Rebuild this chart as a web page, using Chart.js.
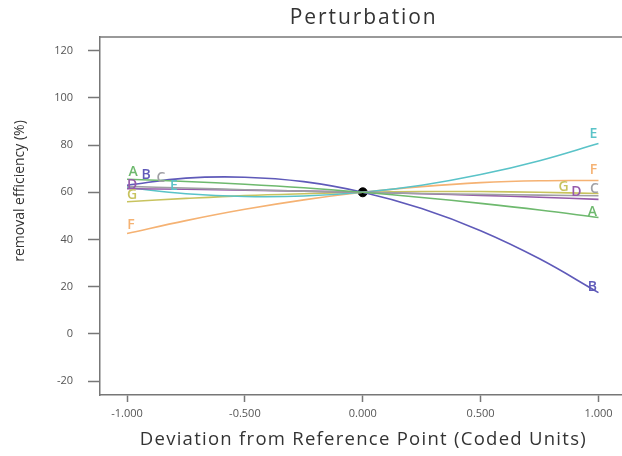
<!DOCTYPE html>
<html>
<head>
<meta charset="utf-8">
<title>Perturbation</title>
<script src="https://cdn.jsdelivr.net/npm/chart.js@4/dist/chart.umd.min.js"></script>
<style>
  html, body { margin: 0; padding: 0; background: #fff; overflow: hidden; }
  #wrap { width: 640px; height: 456px; }
</style>
</head>
<body>
<div id="wrap"><canvas id="chart" width="640" height="456"></canvas></div>
<script>
// deviation from the reference point (coded units)
const deviation = [-1, -0.75, -0.5, -0.25, 0, 0.25, 0.5, 0.75, 1];

// removal efficiency (%) for each factor
const factorA = [65.5, 64.6, 63.4, 61.9, 60, 57.8, 55.3, 52.5, 49.3];
const factorB = [63.0, 66.0, 66.4, 64.5, 60, 53.1, 43.7, 31.8, 17.5];
const factorC = [62.5, 61.8, 61.1, 60.5, 60, 59.5, 59.1, 58.8, 58.5];
const factorD = [61.5, 61.3, 60.9, 60.5, 60, 59.4, 58.7, 57.9, 57.0];
const factorE = [62.0, 59.4, 58.2, 58.4, 60, 63.0, 67.5, 73.4, 80.7];
const factorF = [42.5, 48.0, 52.8, 56.8, 60, 62.4, 64.1, 64.9, 65.0];
const factorG = [56.0, 57.4, 58.6, 59.4, 60, 60.3, 60.3, 60.0, 59.5];

const factorNames = ['A', 'B', 'C', 'D', 'E', 'F', 'G'];

// reference point
const refX = [0];
const refY = [60];

const xTicks = [-1, -0.5, 0, 0.5, 1];
const yTicks = [-20, 0, 20, 40, 60, 80, 100, 120];

const colors = {
  A: 'rgb(110,185,110)',
  B: 'rgb(95,90,185)',
  C: 'rgb(160,160,165)',
  D: 'rgb(150,90,170)',
  E: 'rgb(90,195,200)',
  F: 'rgb(245,178,115)',
  G: 'rgb(200,195,95)'
};

// letter placement next to the curve ends, px offsets
const labelOffsets = {
  A: { left: [6, -7], right: [-6, -6] },
  B: { left: [19, -10], right: [-6, -6] },
  C: { left: [34, -8], right: [-4, -7] },
  D: { left: [5, -4], right: [-22, -7] },
  E: { left: [47, -2], right: [-5, -9] },
  F: { left: [4, -9], right: [-5, -10] },
  G: { left: [5, -7], right: [-35, -6] }
};

const seriesValues = [factorA, factorB, factorC, factorD, factorE, factorF, factorG];

const datasets = factorNames.map((name, i) => ({
  label: name,
  data: deviation.map((x, j) => ({ x: x, y: seriesValues[i][j] })),
  borderColor: colors[name],
  borderWidth: 1.6,
  pointRadius: 0,
  tension: 0.4,
  fill: false
}));

datasets.push({
  label: 'ref',
  data: refX.map((x, j) => ({ x: x, y: refY[j] })),
  showLine: false,
  pointRadius: 4.5,
  pointBackgroundColor: '#000',
  pointBorderColor: '#000'
});

const textFont = '"Open Sans", "Noto Sans", sans-serif';

// draws text with spacing so it spans the given width
function fitText(ctx, text, cx, cy, width) {
  ctx.letterSpacing = '0px';
  const w = ctx.measureText(text).width;
  const gap = Math.max(0, (width - w) / (text.length - 1));
  ctx.letterSpacing = gap.toFixed(2) + 'px';
  ctx.fillText(text, cx + gap / 2, cy);
  ctx.letterSpacing = '0px';
}

const decorations = {
  id: 'decorations',
  afterDraw(chart) {
    const { ctx, chartArea, scales } = chart;
    const xs = scales.x, ys = scales.y;
    const midX = xs.getPixelForValue(0);
    ctx.save();

    // frame top edge
    ctx.strokeStyle = '#777';
    ctx.lineWidth = 1.5;
    ctx.beginPath();
    ctx.moveTo(chartArea.left, chartArea.top);
    ctx.lineTo(chartArea.right, chartArea.top);
    ctx.stroke();

    // y tick labels
    ctx.fillStyle = '#555';
    ctx.font = '11px ' + textFont;
    ctx.textAlign = 'right';
    ctx.textBaseline = 'middle';
    yTicks.forEach(v => ctx.fillText(String(v), 73, ys.getPixelForValue(v)));

    // chart title
    ctx.fillStyle = '#333';
    ctx.textAlign = 'center';
    ctx.font = '500 21px ' + textFont;
    fitText(ctx, 'Perturbation', midX, 18, 146);

    // axis titles
    ctx.font = '18.5px ' + textFont;
    fitText(ctx, 'Deviation from Reference Point (Coded Units)', midX, 440, 446);
    ctx.save();
    ctx.translate(20, 191);
    ctx.rotate(-Math.PI / 2);
    ctx.font = '14px ' + textFont;
    ctx.fillText('removal efficiency (%)', 0, 0, 146);
    ctx.restore();

    // factor letters at both ends of each curve
    ctx.font = '600 14px ' + textFont;
    factorNames.forEach((name, i) => {
      const vals = seriesValues[i];
      const off = labelOffsets[name];
      ctx.fillStyle = colors[name];
      const lx = xs.getPixelForValue(deviation[0]) + off.left[0];
      const ly = ys.getPixelForValue(vals[0]) + off.left[1];
      ctx.fillText(name, lx, ly);
      const n = deviation.length - 1;
      const rx = xs.getPixelForValue(deviation[n]) + off.right[0];
      const ry = ys.getPixelForValue(vals[n]) + off.right[1];
      ctx.fillText(name, rx, ry);
    });
    ctx.restore();
  }
};

new Chart(document.getElementById('chart'), {
  type: 'line',
  data: { datasets: datasets },
  options: {
    responsive: false,
    animation: false,
    devicePixelRatio: 1,
    // right frame edge sits just past the visible page
    layout: { padding: { top: 37, right: 14.5, left: 0, bottom: 0 } },
    plugins: {
      legend: { display: false },
      tooltip: { enabled: false },
      title: { display: false }
    },
    scales: {
      x: {
        type: 'linear',
        min: -1.1146,
        max: 1.1146,
        afterBuildTicks: s => { s.ticks = xTicks.map(v => ({ value: v })); },
        afterFit: s => { s.height = 61; s.paddingLeft = 0; s.paddingRight = 0; },
        ticks: {
          callback: v => v.toFixed(3),
          font: { size: 11, family: textFont },
          color: '#555',
          padding: 5,
          maxRotation: 0
        },
        grid: { drawOnChartArea: false, tickLength: 7, tickColor: '#777', tickWidth: 1.5 },
        border: { color: '#777', width: 1.5 }
      },
      y: {
        min: -25.9,
        max: 125.8,
        afterBuildTicks: s => { s.ticks = yTicks.map(v => ({ value: v })); },
        afterFit: s => { s.width = 100; s.paddingTop = 0; s.paddingBottom = 0; },
        ticks: { display: false },
        grid: { drawOnChartArea: false, tickLength: 12, tickColor: '#777', tickWidth: 1.5 },
        border: { color: '#777', width: 1.5 }
      }
    }
  },
  plugins: [decorations]
});
</script>
</body>
</html>
